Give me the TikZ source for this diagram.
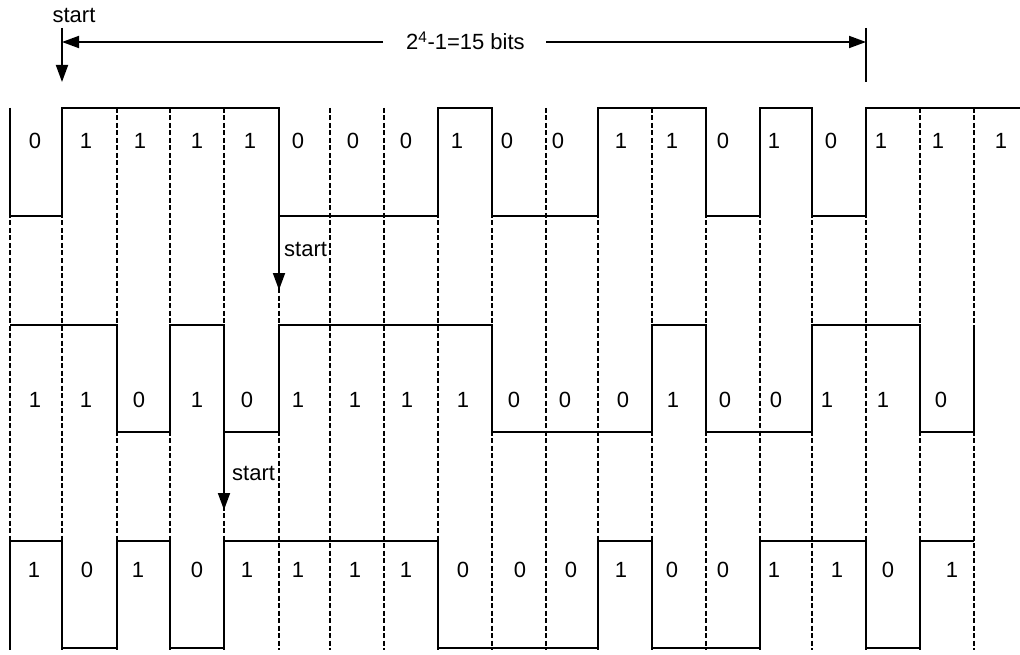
\documentclass[tikz,border=0pt]{standalone}
\usepackage{fontspec}
\setmainfont{Liberation Sans}
\usetikzlibrary{arrows.meta}
\begin{document}
\begin{tikzpicture}[x=1pt,y=-1pt,
  wave/.style={line width=1.8pt, line join=miter},
  gridline/.style={line width=1.3pt, dash pattern=on 5pt off 2.5pt},
  lbl/.style={font=\fontsize{22}{26}\selectfont, inner sep=0pt},
  tip/.style={Triangle[length=17pt,width=12pt]},
  arr/.style={line width=1.8pt, -{Triangle[length=17pt,width=12pt]}}]
\useasboundingbox (0,0) rectangle (1020,655);

% dashed bit boundaries
\foreach \x in {10,62,117,170,224,279,330,384,438,492,546,598,652,706,760,812,866,920,974}
  \draw[gridline] (\x,108) -- (\x,650);

% top waveform
\draw[wave] (10,108)--(10,216)--(62,216)--(62,108)--(279,108)--(279,216)--(438,216)--(438,108)--(492,108)--(492,216)--(598,216)--(598,108)--(706,108)--(706,216)--(760,216)--(760,108)--(812,108)--(812,216)--(866,216)--(866,108)--(1020,108);

% middle waveform
\draw[wave] (10,325)--(117,325)--(117,432)--(170,432)--(170,325)--(224,325)--(224,432)--(279,432)--(279,325)--(492,325)--(492,432)--(652,432)--(652,325)--(706,325)--(706,432)--(812,432)--(812,325)--(920,325)--(920,432)--(974,432)--(974,325);

% bottom waveform
\draw[wave] (10,648)--(10,541)--(62,541)--(62,648)--(117,648)--(117,541)--(170,541)--(170,648)--(224,648)--(224,541)--(438,541)--(438,648)--(598,648)--(598,541)--(652,541)--(652,648)--(760,648)--(760,541)--(866,541)--(866,648)--(920,648)--(920,541)--(974,541);

% bit labels
\foreach \x/\b [count=\i] in {35/0,86/1,140/1,197/1,250/1,298/0,353/0,406/0,457/1,507/0,558/0,621/1,672/1,723/0,774/1,831/0,881/1,938/1,1001/1}
  \node[lbl] (t\i) at (\x,141) {\b};
\foreach \x/\b [count=\i] in {35/1,86/1,139/0,197/1,247/0,298/1,355/1,407/1,463/1,514/0,565/0,623/0,673/1,725/0,776/0,827/1,883/1,941/0}
  \node[lbl] (m\i) at (\x,400) {\b};
\foreach \x/\b [count=\i] in {34/1,87/0,138/1,197/0,247/1,298/1,355/1,406/1,463/0,520/0,571/0,621/1,672/0,723/0,774/1,837/1,888/0,952/1}
  \node[lbl] (b\i) at (\x,570) {\b};

% top start arrow and length marker
\node[lbl, anchor=base] (s1) at (74,23) {start};
\coordinate (s1a) at (62,28);
\coordinate (s1b) at (62,82);
\draw[arr] (s1a) -- (s1b);
\coordinate (endA) at (866,28);
\coordinate (endB) at (866,82);
\draw[line width=1.8pt] (endA) -- (endB);
\node[lbl, anchor=base west] (len) at (406,50) {2\textsuperscript{4}-1=15 bits};
\coordinate (lenL) at (383,42);
\coordinate (lenR) at (546,42);
\coordinate (lenS) at (62,42);
\coordinate (lenE) at (866,42);
\draw[arr] (lenL) -- (lenS);
\draw[arr] (lenR) -- (lenE);

% middle start arrow
\node[lbl, anchor=base west] (s2) at (284,257) {start};
\coordinate (s2a) at (279,216);
\coordinate (s2b) at (279,290);
\draw[arr] (s2a) -- (s2b);

% bottom start arrow
\node[lbl, anchor=base west] (s3) at (232,480) {start};
\coordinate (s3a) at (224,432);
\coordinate (s3b) at (224,510);
\draw[arr] (s3a) -- (s3b);
\end{tikzpicture}
\end{document}
